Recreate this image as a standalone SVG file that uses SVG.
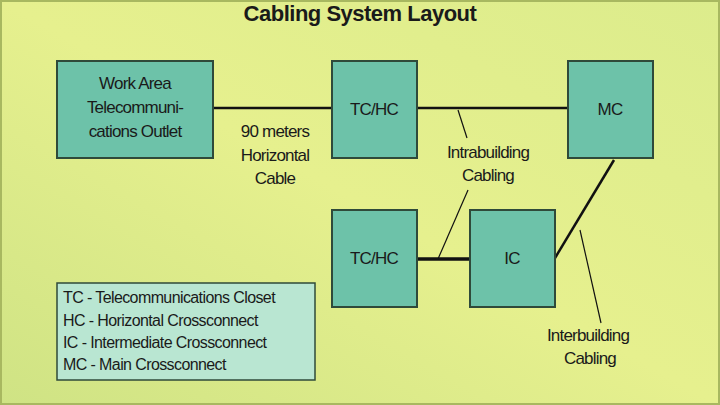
<svg xmlns="http://www.w3.org/2000/svg" width="720" height="405" viewBox="0 0 720 405">
<defs>
<linearGradient id="bg" x1="0" y1="1" x2="1" y2="0">
<stop offset="0" stop-color="#cfe384"/>
<stop offset="0.5" stop-color="#e6f08e"/>
<stop offset="1" stop-color="#dcec8c"/>
</linearGradient>
</defs>
<style>
.box{fill:#6dc2a9;stroke:#2f4a3a;stroke-width:2}
.t{font-family:"Liberation Sans",Arial,sans-serif;font-size:17px;fill:#1a1a1a;text-anchor:middle;letter-spacing:-0.8px}
.l{font-family:"Liberation Sans",Arial,sans-serif;font-size:16px;fill:#1a1a1a;letter-spacing:-0.6px}
.c{stroke:#111;fill:none}
</style>
<rect width="720" height="405" fill="url(#bg)"/>
<rect x="1" y="1" width="718" height="403" fill="none" stroke="#a8b860" stroke-width="2"/>
<text x="360" y="21" class="t" style="font-size:22px;font-weight:bold;letter-spacing:-0.5px">Cabling System Layout</text>
<g id="connectors">
<line class="c" x1="213" y1="108" x2="332" y2="108" stroke-width="2.5"/>
<line class="c" x1="417" y1="108" x2="568" y2="108" stroke-width="2.5"/>
<line class="c" x1="417" y1="259" x2="470" y2="259" stroke-width="3.5"/>
<line class="c" x1="614" y1="160" x2="555" y2="258" stroke-width="2.5"/>
<line class="c" x1="458" y1="110" x2="467" y2="138" stroke-width="1.2"/>
<line class="c" x1="468" y1="190" x2="438" y2="259" stroke-width="1.2"/>
<line class="c" x1="580" y1="230" x2="601" y2="323" stroke-width="1.2"/>
</g>
<g id="workarea"><rect class="box" x="57" y="61" width="156" height="97"/>
<text class="t" x="135" y="89">Work Area</text><text class="t" x="135" y="113">Telecommuni-</text><text class="t" x="135" y="137">cations Outlet</text></g>
<g id="tchc1"><rect class="box" x="332" y="61" width="85" height="97"/><text class="t" x="374" y="115">TC/HC</text></g>
<g id="mc"><rect class="box" x="568" y="61" width="85" height="97"/><text class="t" x="610" y="115">MC</text></g>
<g id="tchc2"><rect class="box" x="332" y="210" width="85" height="97"/><text class="t" x="374" y="264">TC/HC</text></g>
<g id="ic"><rect class="box" x="470" y="210" width="85" height="97"/><text class="t" x="512" y="264">IC</text></g>
<g id="labels">
<text class="t" x="275" y="137">90 meters</text><text class="t" x="275" y="161">Horizontal</text><text class="t" x="275" y="184">Cable</text>
<text class="t" x="488" y="158">Intrabuilding</text><text class="t" x="488" y="181">Cabling</text>
<text class="t" x="588" y="341">Interbuilding</text><text class="t" x="590" y="364">Cabling</text>
</g>
<g id="legend"><rect x="57" y="283" width="258" height="97" fill="#b9e6d2" stroke="#2f4a3a" stroke-width="1.5"/>
<text class="l" x="63" y="303">TC - Telecommunications Closet</text>
<text class="l" x="63" y="326">HC - Horizontal Crossconnect</text>
<text class="l" x="63" y="348">IC - Intermediate Crossconnect</text>
<text class="l" x="63" y="370">MC - Main Crossconnect</text></g>
</svg>
